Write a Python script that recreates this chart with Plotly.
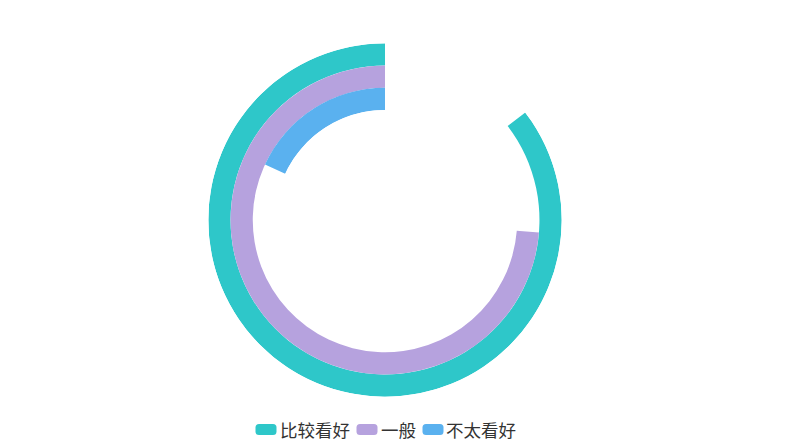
import plotly.graph_objects as go

categories = ["比较看好", "一般", "不太看好"]
values = [85.4, 73.7, 18.1]          # share of full circle (max 100)
ring_base = [2, 1, 0]                # ring position (outer -> inner)
colors = ["#2ec7c9", "#b6a2de", "#5ab1ef"]
angle_max = 100

fig = go.Figure()
for name, v, b, c in zip(categories, values, ring_base, colors):
    span = v / angle_max * 360
    fig.add_trace(go.Barpolar(
        name=name,
        r=[1], base=[b],
        theta=[span / 2], width=[span],
        marker=dict(color=c, line=dict(width=0)),
        hoverinfo="name",
        showlegend=False,
    ))

W, H = 812, 442
cx, cy, R = 385, 220, 176.7

# ---- legend (ECharts style: rounded-rect icons + text, centred at bottom)
fs = 17.5            # legend font size (CJK glyph advance = 1em)
icon_w, icon_h, rad = 21, 11, 3.5
text_gap, item_gap = 3, 7
legend_y = 429       # pixel row of legend centre (from top)
widths = [icon_w + text_gap + len(t) * fs for t in categories]
total = sum(widths) + item_gap * (len(categories) - 1)
x0 = cx + 1 - total / 2

hw, hh = icon_w / 2, icon_h / 2
icon_path = (f"M {-hw+rad},{-hh} L {hw-rad},{-hh} Q {hw},{-hh} {hw},{-hh+rad} "
             f"L {hw},{hh-rad} Q {hw},{hh} {hw-rad},{hh} L {-hw+rad},{hh} "
             f"Q {-hw},{hh} {-hw},{hh-rad} L {-hw},{-hh+rad} Q {-hw},{-hh} {-hw+rad},{-hh} Z")

shapes, annotations = [], []
x = x0
for t, c, w in zip(categories, colors, widths):
    shapes.append(dict(
        type="path", xref="paper", yref="paper",
        xsizemode="pixel", ysizemode="pixel",
        xanchor=(x + hw) / W, yanchor=(H - legend_y - 0.5) / H,
        path=icon_path, fillcolor=c, line=dict(width=0), layer="above",
    ))
    annotations.append(dict(
        text=t, xref="paper", yref="paper",
        x=(x + icon_w + text_gap) / W, y=(H - legend_y) / H,
        xanchor="left", yanchor="middle", showarrow=False,
        borderpad=0, borderwidth=0,
        font=dict(size=fs, color="#333333", family="Noto Sans CJK SC"),
    ))
    x += w + item_gap

fig.update_layout(
    width=W, height=H,
    margin=dict(l=0, r=0, t=0, b=0, autoexpand=False),
    paper_bgcolor="white",
    plot_bgcolor="white",
    font=dict(family="Noto Sans CJK SC", color="#333333"),
    showlegend=False,
    polar=dict(
        domain=dict(x=[(cx - R) / W, (cx + R) / W],
                    y=[(H - cy - R) / H, (H - cy + R) / H]),
        hole=110 / R,
        bgcolor="white",
        radialaxis=dict(range=[0, 3], visible=False, showgrid=False),
        angularaxis=dict(rotation=90, direction="counterclockwise",
                         visible=False, showgrid=False, thetaunit="degrees"),
        bargap=0,
    ),
    shapes=shapes,
    annotations=annotations,
)

fig.write_html("out.html",
               config={"displayModeBar": False},
               post_script="document.body.style.margin='0';"
                           "document.body.style.overflow='hidden';")
